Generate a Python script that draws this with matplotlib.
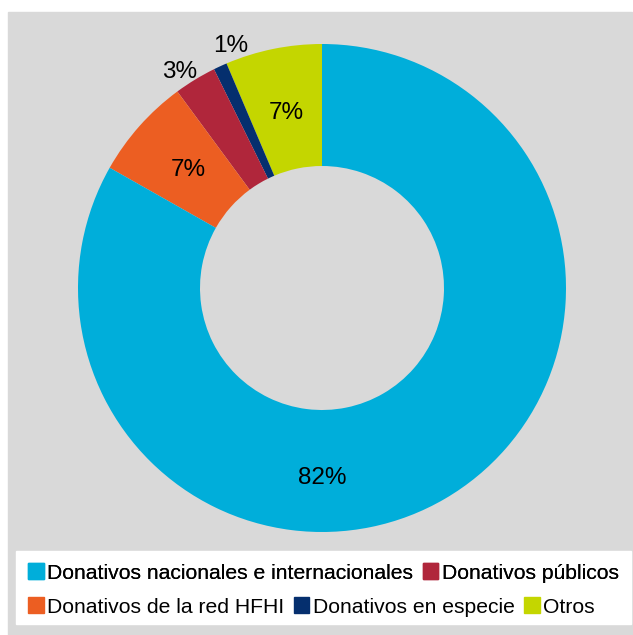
import matplotlib.pyplot as plt
import matplotlib.patches as mpatches
import numpy as np

plt.rcParams['font.family'] = ['Liberation Sans', 'DejaVu Sans']

# Datos (en el orden del dibujo, antihorario desde las 12)
categorias = ['Otros', 'Donativos en especie', 'Donativos públicos',
              'Donativos de la red HFHI', 'Donativos nacionales e internacionales']
valores = [6.4, 0.9, 2.8, 6.7, 83.2]
etiquetas = ['7%', '1%', '3%', '7%', '82%']
colores = ['#C4D600', '#052F6E', '#B0263B', '#EC5E22', '#00AEDA']

# orden de la leyenda
fila1 = ['Donativos nacionales e internacionales', 'Donativos públicos']
fila2 = ['Donativos de la red HFHI', 'Donativos en especie', 'Otros']

W, H = 633, 635
fig = plt.figure(figsize=(W / 100, H / 100), dpi=100, facecolor='white')

# fondo gris
fig.patches.append(mpatches.Rectangle((8 / W, 0), 624 / W, (H - 12) / H,
                                      transform=fig.transFigure, color='#D9D9D9', zorder=-3))
# caja blanca de la leyenda
fig.patches.append(mpatches.Rectangle((16 / W, (H - 624) / H), 615 / W, 73 / H,
                                      transform=fig.transFigure, color='white', zorder=-2))

cx, cy, R = 322, H - 288, 244
ax = fig.add_axes([(cx - R) / W, (cy - R) / H, 2 * R / W, 2 * R / H])
ax.set_axis_off()
ax.patch.set_visible(False)

wedges, _ = ax.pie(valores, colors=colores, startangle=90, counterclock=True,
                   radius=1, wedgeprops=dict(width=0.5, linewidth=0))
ax.set_xlim(-1, 1)
ax.set_ylim(-1, 1)

# etiquetas: dentro para los grandes, fuera para los pequeños
for w, txt, v in zip(wedges, etiquetas, valores):
    ang = np.deg2rad((w.theta1 + w.theta2) / 2)
    if v > 50:
        ang, r = np.deg2rad(270), 0.78   # la grande va abajo al centro
    elif v > 5:
        r = 0.73
    else:
        r = 1.06
        ang += np.deg2rad(-4 if v < 1.5 else 2)
    ax.text(r * np.cos(ang), r * np.sin(ang), txt, ha='center', va='center',
            fontsize=17.5, color='black')

por_nombre = dict(zip(categorias, colores))

def fila(nombres, y):
    handles = [mpatches.Patch(color=por_nombre[n], label=n) for n in nombres]
    leg = fig.legend(handles=handles, loc='center left', bbox_to_anchor=(28 / W, y / H),
                     ncol=len(nombres), frameon=False, fontsize=15.2,
                     handlelength=0.75, handleheight=0.75, handletextpad=0.15,
                     columnspacing=0.45, borderpad=0, borderaxespad=0)
    return leg

l1 = fila(fila1, H - 573)
fig.add_artist(l1)
fila(fila2, H - 607)

fig.savefig('out.png', dpi=100, facecolor='white')
